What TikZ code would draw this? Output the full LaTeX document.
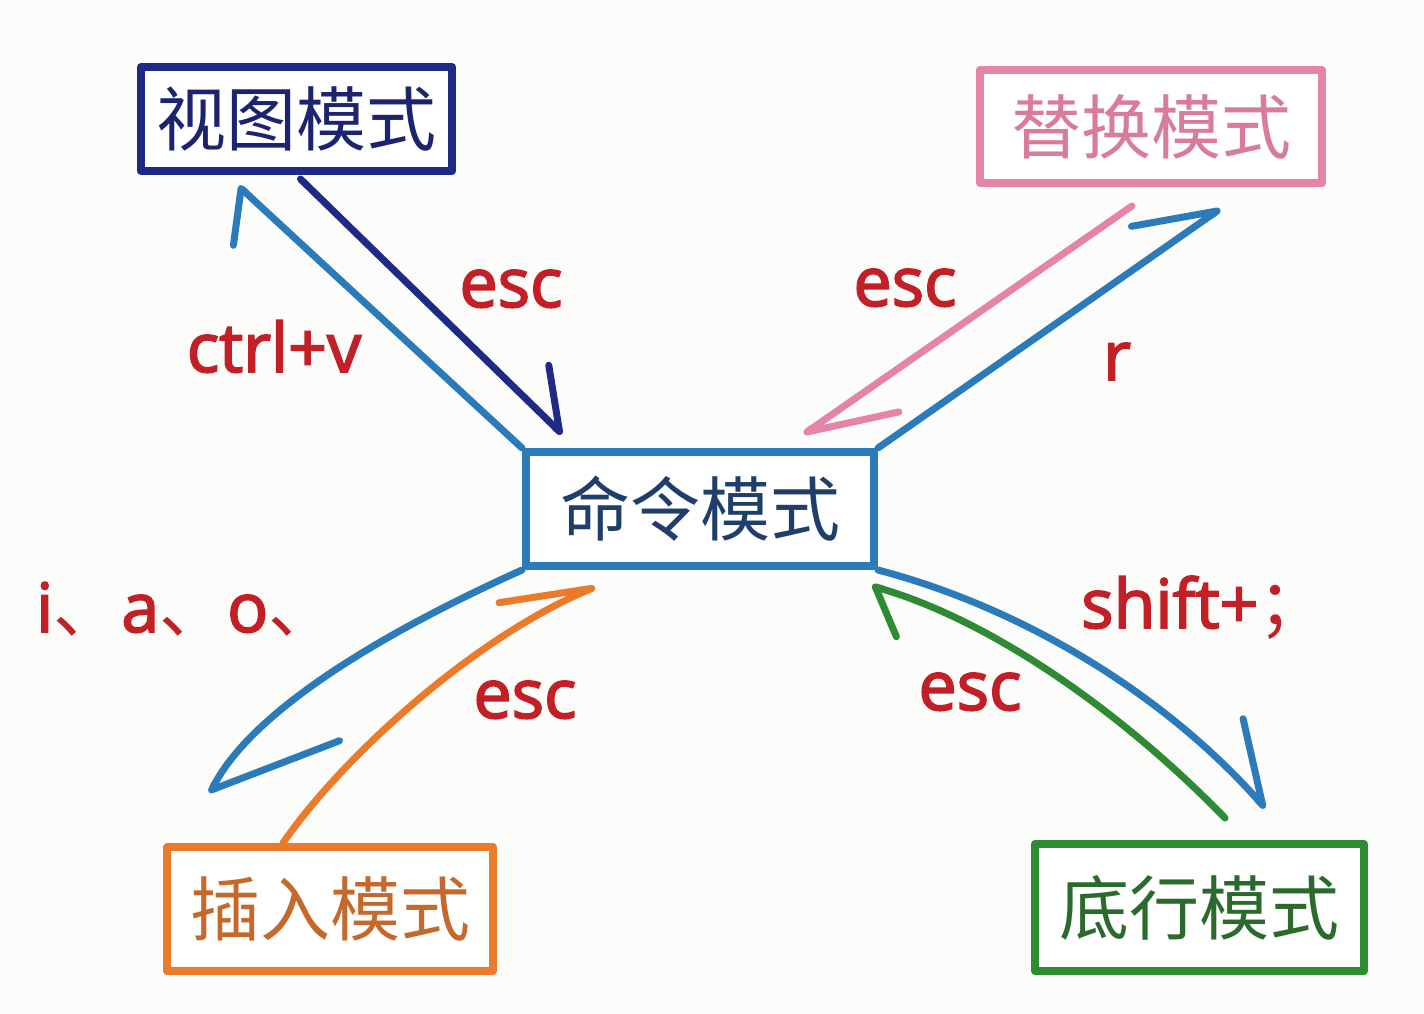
\documentclass[tikz,border=0pt]{standalone}
\usepackage{fontspec}
\newfontfamily\cjk{Noto Sans CJK SC}
\newfontfamily\lab[FakeBold=2.6]{Open Sans}
\usetikzlibrary{arrows.meta,calc}
\definecolor{bgc}{HTML}{FCFCFB}
\definecolor{navy}{HTML}{1E2A86}
\definecolor{navytxt}{HTML}{1C2470}
\definecolor{pinkc}{HTML}{E584A8}
\definecolor{pinktxt}{HTML}{D97C9C}
\definecolor{cmdblue}{HTML}{2B7BBA}
\definecolor{cmdtxt}{HTML}{1F3E6B}
\definecolor{orangec}{HTML}{EB7A2A}
\definecolor{orangetxt}{HTML}{C4682C}
\definecolor{greenc}{HTML}{2E8B34}
\definecolor{greentxt}{HTML}{2A6A2C}
\definecolor{labred}{HTML}{C22026}
\tikzset{
  modebox/.style={draw, line width=8pt, line join=round, fill=white, inner sep=0pt,
    font=\cjk\fontsize{70}{70}\selectfont},
  conn/.style={line width=7pt, line cap=round, line join=round},
  keylab/.style={text=labred, font=\lab\fontsize{68}{68}\selectfont, inner sep=0pt, anchor=base},
}
\begin{document}
\begin{tikzpicture}[x=1pt,y=-1pt]
\fill[bgc] (0,0) rectangle (1424,1014);
\useasboundingbox (0,0) rectangle (1424,1014);

\node[modebox, draw=navy, text=navytxt, minimum width=311pt, minimum height=104pt] (view) at (296.5,119) {视图模式};
\node[modebox, draw=pinkc, text=pinktxt, minimum width=342pt, minimum height=113pt] (replace) at (1151,126.5) {替换模式};
\node[modebox, draw=cmdblue, text=cmdtxt, minimum width=348pt, minimum height=114pt] (cmd) at (700,509) {命令模式};
\node[modebox, draw=orangec, text=orangetxt, minimum width=326pt, minimum height=124pt] (insert) at (330,909) {插入模式};
\node[modebox, draw=greenc, text=greentxt, minimum width=329pt, minimum height=127pt] (bottom) at (1199.5,907.5) {底行模式};

% command -> view (ctrl+v)
\draw[conn, cmdblue, -{Straight Barb[harpoon,round,length=33pt,width=94pt]}]
  (cmd.north west) -- ([xshift=-58pt,yshift=-11pt]view.south);
% view -> command (esc)
\draw[conn, navy, -{Straight Barb[harpoon,round,length=54pt,width=80pt]}]
  ([xshift=4pt,yshift=-4pt]view.south) -- ([xshift=40pt,yshift=14pt]cmd.north west);
% replace -> command (esc)
\draw[conn, pinkc, -{Straight Barb[harpoon,round,length=87pt,width=72pt]}]
  ([xshift=-19pt,yshift=-19pt]replace.south) -- ([xshift=-74pt,yshift=14pt]cmd.north east);
% command -> replace (r)
\draw[conn, cmdblue, -{Straight Barb[harpoon,round,length=79pt,width=73pt]}]
  (cmd.north east) -- ([xshift=69pt,yshift=-22pt]replace.south);
% command -> insert (i a o)
\draw[conn, cmdblue, -{Straight Barb[harpoon,round,length=102pt,width=183pt]}]
  (cmd.south west) .. controls (400,625) and (255,705) .. ([xshift=-120pt,yshift=50pt]insert.north);
% insert -> command (esc)
\draw[conn, orangec, -{Straight Barb[harpoon,round,length=91pt,width=46pt]}]
  ([xshift=-47pt]insert.north) .. controls (340,760) and (470,640) .. ([xshift=-105pt,yshift=-17pt]cmd.south);
% command -> bottom (shift+;)
\draw[conn, cmdblue, -{Straight Barb[harpoon,round,length=78pt,width=85pt]}]
  (cmd.south east) .. controls (1030,610) and (1170,700) .. ([xshift=65.5pt,yshift=32pt]bottom.north);
% bottom -> command (esc)
\draw[conn, greenc, -{Straight Barb[harpoon,round,length=34pt,width=84pt]}]
  ([xshift=25.5pt,yshift=22pt]bottom.north) .. controls (1120,710) and (990,620) .. ([xshift=-6pt,yshift=-16pt]cmd.south east);

\node[keylab] (l1) at (511,307) {esc};
\node[keylab] (l2) at (274,372) {ctrl+v};
\node[keylab] (l3) at (905,306) {esc};
\node[keylab] (l4) at (1117,380) {r};
\node[keylab, anchor=base west] (l5) at (36,632) {i{\cjk 、}a{\cjk 、}o{\cjk 、}};
\node[keylab] (l6) at (525,718) {esc};
\node[keylab, anchor=base west] (l7) at (1081,628) {shift+{\cjk ；}};
\node[keylab] (l8) at (970,710) {esc};
\end{tikzpicture}
\end{document}
